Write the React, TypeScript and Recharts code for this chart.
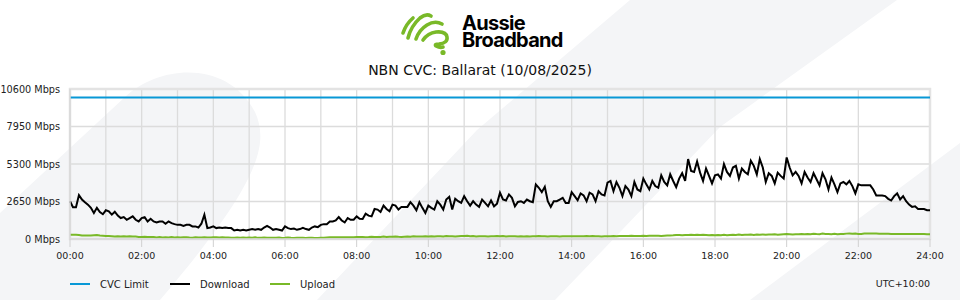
import React from "react";
import {
  LineChart,
  Line,
  XAxis,
  YAxis,
  CartesianGrid,
  ReferenceArea,
} from "recharts";

// 5-minute samples, 00:00 .. 24:00 (289 points)
const downloadMbps = [
  2670, 2240, 2240, 3100, 2790, 2600, 2430, 2200, 1840, 2200, 1900, 1750,
  2030, 1960, 1720, 1930, 1650, 1480, 1550, 1360, 1480, 1600, 1360, 1240,
  1480, 1550, 1240, 1430, 1240, 1170, 1240, 1240, 1080, 1240, 1120, 1050,
  1000, 1000, 930, 1000, 1000, 890, 890, 810, 1080, 1720, 770, 810,
  890, 770, 810, 770, 810, 770, 770, 600, 650, 600, 650, 600,
  650, 700, 650, 700, 650, 810, 930, 810, 650, 700, 650, 600,
  890, 770, 700, 740, 650, 700, 790, 700, 650, 810, 890, 840,
  1000, 1050, 1050, 1240, 1240, 1310, 1550, 1310, 1170, 1480, 1360, 1360,
  1600, 1430, 1410, 1790, 1650, 1600, 2120, 2080, 1910, 2360, 2120, 1960,
  2430, 2360, 2080, 2270, 2270, 2270, 2600, 2360, 2030, 2600, 2200, 1840,
  2360, 2200, 2080, 2670, 2430, 2080, 2790, 2980, 2080, 2840, 2670, 2550,
  3030, 2670, 2360, 2670, 2430, 2270, 2790, 2550, 2310, 2720, 2310, 2500,
  3270, 2790, 2720, 3150, 2910, 2310, 2620, 2670, 2550, 2790, 2670, 2600,
  3860, 3620, 3310, 3690, 2670, 2270, 2670, 2670, 2790, 2910, 2550, 2550,
  3310, 3030, 2740, 3220, 3080, 2670, 3270, 3150, 2670, 3380, 3150, 3080,
  3980, 4100, 3380, 4030, 3620, 3030, 3740, 3500, 3030, 4030, 3500, 3380,
  4270, 3860, 3500, 4100, 3740, 3620, 4500, 4030, 3790, 4570, 4100, 3670,
  4270, 4650, 4100, 5650, 4810, 4740, 5480, 4690, 4100, 4980, 4460, 3930,
  4500, 4570, 4270, 5290, 4740, 4460, 5050, 5170, 4270, 4980, 4740, 4570,
  5530, 5170, 4570, 5650, 5050, 4030, 4650, 4460, 3930, 4690, 4460, 4270,
  5760, 5050, 4500, 4740, 4460, 3930, 4740, 4340, 4030, 4650, 4220, 3790,
  4650, 4220, 3500, 4340, 3860, 3310, 3930, 4030, 3860, 4100, 3740, 3220,
  3860, 3790, 3790, 3790, 3790, 3500, 3080, 3080, 3080, 3030, 2840, 2720,
  3030, 3220, 2790, 3030, 2670, 2430, 2270, 2310, 2120, 2120, 2120, 2030,
  2030,
];

const uploadMbps = [
  300, 300, 300, 290, 250, 240, 240, 240, 270, 280, 240, 230,
  220, 220, 200, 180, 200, 180, 190, 170, 200, 180, 170, 150,
  150, 160, 140, 150, 140, 100, 140, 110, 130, 100, 140, 110,
  120, 100, 130, 120, 100, 90, 120, 100, 100, 120, 110, 110,
  120, 130, 110, 130, 100, 100, 80, 90, 100, 80, 100, 90,
  110, 90, 120, 80, 90, 100, 80, 90, 80, 80, 100, 70,
  80, 100, 80, 70, 90, 80, 80, 70, 90, 80, 70, 70,
  80, 90, 110, 120, 120, 120, 120, 120, 130, 130, 130, 130,
  140, 140, 140, 130, 140, 160, 140, 150, 150, 170, 140, 160,
  160, 180, 160, 150, 160, 170, 160, 190, 180, 170, 180, 190,
  180, 200, 170, 200, 190, 180, 210, 190, 200, 180, 200, 210,
  220, 230, 200, 210, 180, 200, 190, 200, 180, 200, 190, 210,
  200, 210, 180, 200, 190, 200, 170, 190, 180, 200, 180, 200,
  200, 210, 190, 200, 180, 200, 190, 200, 180, 190, 200, 190,
  190, 200, 190, 200, 200, 210, 200, 210, 200, 190, 180, 200,
  190, 200, 210, 200, 220, 210, 220, 220, 230, 220, 220, 220,
  230, 220, 230, 230, 230, 230, 220, 230, 240, 250, 260, 280,
  280, 270, 290, 280, 300, 290, 300, 280, 300, 280, 260, 280,
  260, 280, 260, 300, 270, 290, 300, 280, 310, 290, 300, 300,
  310, 290, 310, 300, 320, 300, 320, 310, 330, 300, 320, 340,
  360, 340, 320, 340, 330, 350, 340, 360, 340, 370, 350, 340,
  380, 350, 360, 340, 370, 340, 360, 350, 380, 390, 370, 380,
  360, 350, 380, 380, 380, 380, 380, 370, 370, 370, 370, 360,
  360, 350, 360, 360, 360, 350, 360, 350, 360, 350, 350, 340,
  340,
];

const cvcLimitMbps = 10000;
const sampleMinutes = 5;
const yTicks = [0, 2650, 5300, 7950, 10600];
const xLabelTicks = [0, 120, 240, 360, 480, 600, 720, 840, 960, 1080, 1200, 1320, 1440];
const hourGridTicks = [0, 60, 120, 180, 240, 300, 360, 420, 480, 540, 600, 660, 720, 780, 840, 900, 960, 1020, 1080, 1140, 1200, 1260, 1320, 1380, 1440];

const title = "NBN CVC: Ballarat (10/08/2025)";
const brandText = "Aussie\nBroadband";
const timezone = "UTC+10:00";

const BLUE = "#0898d6";
const GREEN = "#79b928";
const BG = "#f4f5f7";
const FONT = "'DejaVu Sans', Verdana, sans-serif";

const data = downloadMbps.map((d, i) => ({
  minute: i * sampleMinutes,
  download: d,
  upload: uploadMbps[i],
  cvc: cvcLimitMbps,
}));

const fmtTime = (m: number) => `${String(Math.floor(m / 60)).padStart(2, "0")}:00`;

const legendItems = [
  { label: "CVC Limit", color: BLUE },
  { label: "Download", color: "#000000" },
  { label: "Upload", color: GREEN },
];

function YTick(props: any) {
  const { x, y, payload } = props;
  return (
    <text
      x={x}
      y={y}
      textAnchor="end"
      dominantBaseline="central"
      fontSize={9.7}
      fill="#222"
      fontFamily={FONT}
    >
      {`${payload.value} Mbps`}
    </text>
  );
}

function Logo() {
  return (
    <div style={{ position: "absolute", left: 398, top: 6, width: 180, height: 50 }}>
      <svg width={56} height={50} style={{ position: "absolute", left: 0, top: 0 }}>
        <g fill="none" stroke={GREEN} strokeWidth={3.6} strokeLinecap="round" strokeLinejoin="round">
          <path d="M5,27 Q8,18 15,12" />
          <path d="M10,32 Q13,20 22,12 Q28,7 33,10" />
          <path d="M18,33 Q21,24 29,19 Q37,14 44,18" />
          <path d="M25,34 Q30,27 38,26 Q48,25 49,31 Q50,37 41,38 Q36,38 38,40 Q42,42 45,41" />
        </g>
        <circle cx={45} cy={46.5} r={2.6} fill={GREEN} />
      </svg>
      <div
        style={{
          position: "absolute",
          left: 64,
          top: 9,
          fontFamily: "Inter, 'Liberation Sans', sans-serif",
          fontWeight: 700,
          fontSize: 20,
          lineHeight: "17px",
          letterSpacing: -0.7,
          color: "#000",
          whiteSpace: "pre",
        }}
      >
        {brandText}
      </div>
    </div>
  );
}

export default function App() {
  return (
    <div
      style={{
        position: "absolute",
        left: 0,
        top: 0,
        width: 960,
        height: 300,
        background: "#ffffff",
        overflow: "hidden",
        fontFamily: FONT,
      }}
    >
      <svg width={960} height={300} style={{ position: "absolute", left: 0, top: 0 }}>
        <path d="M0,213 L125,97 C160,64 228,60 255,112 C270,145 258,185 160,300 L0,300 Z" fill={BG} />
        <path d="M630,0 L897,0 L720,127 L603,250 L555,300 L317,300 L477,130 Z" fill={BG} />
        <path d="M960,143 L960,300 L750,300 Z" fill={BG} />
      </svg>

      <Logo />

      <div
        style={{
          position: "absolute",
          left: 0,
          width: 960,
          top: 61,
          textAlign: "center",
          fontSize: 14,
          color: "#111",
          lineHeight: "18px",
        }}
      >
        {title}
      </div>

      <div style={{ position: "absolute", left: 0, top: 0 }}>
        <LineChart
          width={960}
          height={300}
          data={data}
          margin={{ top: 89, right: 30, bottom: 29, left: 0 }}
        >
          <XAxis
            xAxisId="hours"
            dataKey="minute"
            type="number"
            domain={[0, 1440]}
            ticks={hourGridTicks}
            hide
          />
          <CartesianGrid xAxisId="hours" stroke="#dcdcdc" strokeWidth={1.3} />
          <ReferenceArea
            x1={0}
            x2={1440}
            y1={0}
            y2={10600}
            fill="none"
            stroke="#e3e3e3"
            strokeWidth={2.5}
          />
          <XAxis
            dataKey="minute"
            type="number"
            domain={[0, 1440]}
            ticks={xLabelTicks}
            tickFormatter={fmtTime}
            interval={0}
            height={32}
            tickSize={8}
            tickMargin={5}
            axisLine={{ stroke: "#d8d8d8", strokeWidth: 1.5 }}
            tickLine={{ stroke: "#d0d0d0" }}
            tick={{ fontSize: 9.5, fill: "#222", fontFamily: FONT }}
          />
          <YAxis
            type="number"
            domain={[0, 10600]}
            ticks={yTicks}
            width={70}
            axisLine={{ stroke: "#d8d8d8", strokeWidth: 1.5 }}
            tickLine={false}
            tickSize={6}
            tickMargin={4}
            tick={<YTick />}
          />
          <Line
            dataKey="cvc"
            type="linear"
            stroke={BLUE}
            strokeWidth={2}
            dot={false}
            activeDot={false}
            isAnimationActive={false}
          />
          <Line
            dataKey="upload"
            type="linear"
            stroke={GREEN}
            strokeWidth={2}
            dot={false}
            activeDot={false}
            isAnimationActive={false}
          />
          <Line
            dataKey="download"
            type="linear"
            stroke="#000000"
            strokeWidth={2}
            dot={false}
            activeDot={false}
            isAnimationActive={false}
          />
        </LineChart>
      </div>

      {legendItems.map((item, i) => (
        <div
          key={item.label}
          style={{
            position: "absolute",
            left: 70 + i * 100,
            top: 277,
            height: 14,
            display: "flex",
            alignItems: "center",
            fontSize: 10,
            color: "#222",
            whiteSpace: "nowrap",
          }}
        >
          <span style={{ display: "inline-block", width: 20, height: 2, background: item.color, marginRight: 10 }} />
          {item.label}
        </div>
      ))}

      <div
        style={{
          position: "absolute",
          right: 30,
          top: 277,
          height: 14,
          lineHeight: "14px",
          fontSize: 9.5,
          color: "#222",
        }}
      >
        {timezone}
      </div>
    </div>
  );
}
